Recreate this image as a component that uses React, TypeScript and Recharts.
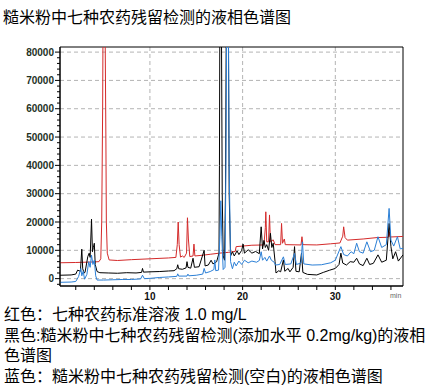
import { LineChart, Line, XAxis, YAxis, CartesianGrid, ReferenceArea } from 'recharts';

// retention time (min) vs. response
const redTrace: [number, number][] = [
  [0.3, 5600], [2.0, 5700], [3.0, 5800], [4.0, 5900], [4.5, 6000], [4.7, 7000], [4.8, 20000],
  [4.9, 60000], [4.95, 95000], [5.15, 95000], [5.25, 50000], [5.3, 20000], [5.4, 9000], [5.6, 6600],
  [6.5, 6400], [8, 6700], [10, 7000], [12, 7300], [12.8, 7500], [12.95, 12000], [13.05, 20000],
  [13.15, 12000], [13.3, 7600], [13.5, 8000], [13.7, 7500], [13.95, 9000], [14.05, 21500],
  [14.15, 14000], [14.3, 7800], [14.65, 8000], [14.75, 12200], [14.85, 8000], [15.5, 8200],
  [16.5, 8600], [17.5, 9000], [18.5, 9300], [19.2, 9600], [19.3, 11300], [20, 11500], [21, 11800],
  [22.3, 11900], [22.45, 18000], [22.5, 23600], [22.6, 13000], [22.8, 13000], [22.9, 22500],
  [23.0, 13000], [23.3, 13700], [23.5, 12000], [24.1, 12000], [24.2, 19500], [24.3, 12500],
  [24.5, 14000], [24.6, 12000], [26.3, 11900], [26.4, 14800], [26.5, 12000], [28, 11900],
  [29.5, 12300], [30.5, 12600], [30.8, 15000], [30.9, 18300], [31.05, 14500], [31.3, 13600],
  [33, 14000], [34.5, 14500], [35.7, 14600], [35.8, 16500], [35.9, 14700], [37.3, 14900],
];

const blackTrace: [number, number][] = [
  [0.3, 1200], [1.5, 1300], [2.0, 1600], [2.2, 3000], [2.5, 2600], [2.65, 10400], [2.75, 3500],
  [2.9, 2000], [3.0, 2200], [3.3, 7800], [3.45, 9000], [3.55, 7500], [3.7, 21000], [3.8, 9500],
  [3.9, 11000], [4.0, 12500], [4.1, 5000], [4.3, 2500], [4.6, 2100], [5.5, 2000], [6.5, 1900],
  [7.5, 2100], [8.5, 2000], [9.1, 2200], [9.2, 3600], [9.3, 2300], [10, 2400], [11, 2500],
  [12, 2700], [12.6, 2800], [12.9, 3500], [13.0, 4900], [13.1, 3500], [13.5, 3300], [13.9, 3800],
  [14.0, 6000], [14.1, 4000], [14.4, 3700], [14.65, 7200], [14.8, 4000], [15.3, 4200],
  [15.85, 10000], [15.95, 4500], [16.3, 4800], [16.6, 6500], [16.8, 5200], [17.2, 6000],
  [17.45, 9000], [17.5, 40000], [17.55, 100000], [17.7, 100000], [17.8, 30000], [17.9, 8000],
  [18.05, 6500], [18.15, 30000], [18.25, 100000], [18.45, 100000], [18.55, 30000], [18.7, 8000],
  [18.9, 9500], [19.1, 8000], [19.4, 9800], [19.6, 8500], [19.9, 10000], [20.05, 12200],
  [20.2, 9000], [20.6, 10200], [21.0, 9000], [21.4, 9600], [21.8, 8800], [22.0, 18300],
  [22.15, 10500], [22.3, 13500], [22.45, 11000], [22.6, 12000], [22.8, 10000], [23.0, 16000],
  [23.15, 11000], [23.3, 12500], [23.5, 6000], [23.6, 2000], [23.9, 2800], [24.1, 2400],
  [24.4, 6600], [24.55, 2600], [24.9, 3600], [25.1, 2400], [25.45, 4000], [25.6, 11300],
  [25.75, 2600], [26.1, 2400], [26.35, 9000], [26.5, 2200], [27, 1500], [28, 1300], [28.7, 2200],
  [29.4, 3000], [30.0, 3600], [30.4, 5000], [30.6, 9000], [30.8, 5500], [31.2, 4800], [31.6, 6000],
  [32.0, 5800], [32.3, 7200], [32.6, 5200], [33.0, 4600], [33.4, 7200], [33.7, 5000], [34.1, 5400],
  [34.6, 8400], [35.0, 5800], [35.5, 6500], [35.8, 19500], [36.0, 11300], [36.2, 7000],
  [36.5, 9500], [36.8, 6200], [37.3, 8400],
];

const blueTrace: [number, number][] = [
  [0.3, -1300], [1.5, -1200], [2.0, -1000], [2.3, 700], [2.55, 3600], [2.65, 1000], [2.8, 2600],
  [2.95, -200], [3.2, 1500], [3.4, 6000], [3.55, 4000], [3.7, 8300], [3.85, 5000], [4.0, 6500],
  [4.15, 1000], [4.3, -500], [5, -500], [6, -400], [7, -300], [8, -300], [9.0, -100], [9.2, 1200],
  [9.4, 0], [10, 100], [11, 400], [12, 600], [12.9, 800], [13.0, 1700], [13.1, 900], [14, 900],
  [14.1, 1600], [14.2, 1000], [15, 1200], [15.7, 1600], [15.85, 3600], [16.0, 2000], [16.5, 2500],
  [16.9, 3200], [17.0, 6600], [17.1, 2800], [17.4, 3000], [17.55, 15000], [17.65, 27500],
  [17.75, 15000], [17.9, 3200], [18.1, 4000], [18.2, 40000], [18.3, 100000], [18.45, 100000],
  [18.55, 40000], [18.7, 6000], [18.9, 3500], [19.1, 5800], [19.3, 4500], [19.6, 6200],
  [19.9, 5000], [20.2, 6500], [20.6, 5600], [21.0, 6200], [21.5, 5800], [21.8, 6400], [22.0, 9500],
  [22.15, 6500], [22.4, 7500], [22.6, 6200], [22.9, 8000], [23.1, 6500], [23.4, 5800],
  [23.55, 4800], [24.0, 5000], [24.4, 7700], [24.6, 5000], [25.2, 5200], [25.6, 8900], [25.8, 5000],
  [26.3, 5500], [26.45, 13000], [26.6, 5200], [27.5, 4800], [28.5, 4900], [29.5, 5600],
  [30.0, 6500], [30.6, 11300], [30.9, 8500], [31.3, 8000], [31.7, 9500], [32.0, 8800],
  [32.3, 12500], [32.6, 9500], [33.0, 9000], [33.4, 13000], [33.8, 9500], [34.2, 10000],
  [34.6, 14800], [35.0, 11000], [35.5, 12000], [35.8, 24800], [36.0, 13600], [36.3, 11500],
  [36.7, 14800], [37.0, 10500], [37.3, 10700],
];

const xTicks = [2, 4, 6, 8, 10, 12, 14, 16, 18, 20, 22, 24, 26, 28, 30, 32, 34, 36];
const xLabels = [10, 20, 30];
const yTicks = Array.from({ length: 42 }, (_, i) => -2000 + i * 2000);
const yLabels = [0, 10000, 20000, 30000, 40000, 50000, 60000, 70000, 80000];

const X_MIN = 0.3;
const X_MAX = 37.3;
const Y_MIN = -2600;
const Y_MAX = 81800;

const title = '糙米粉中七种农药残留检测的液相色谱图';
const notes = [
  '红色：七种农药标准溶液 1.0 mg/L',
  '黑色:糙米粉中七种农药残留检测(添加水平 0.2mg/kg)的液相',
  '色谱图',
  '蓝色：糙米粉中七种农药残留检测(空白)的液相色谱图',
];

const toRows = (pts: [number, number][]) => pts.map(([t, v]) => ({ t, v }));

const FONT = '"Liberation Sans", "Noto Sans CJK SC", sans-serif';

const YTick = ({ x, y, payload }: any) => {
  const major = yLabels.includes(payload.value);
  return (
    <g>
      <line x1={major ? x + 1 : x + 3} x2={x + 6} y1={y} y2={y} stroke="#000" />
      {major && (
        <text x={x} y={y} dy={3.5} textAnchor="end" fontSize={10} fontWeight="bold" fill="#24321f" fontFamily={FONT}>
          {payload.value}
        </text>
      )}
    </g>
  );
};

const XTick = ({ x, y, payload }: any) => {
  const major = xLabels.includes(payload.value);
  return (
    <g>
      <line x1={x} x2={x} y1={y - 6} y2={y - 2} stroke="#000" />
      {major && (
        <text x={x} y={y + 8} textAnchor="middle" fontSize={10} fontWeight="bold" fill="#111" fontFamily={FONT}>
          {payload.value}
        </text>
      )}
    </g>
  );
};

export default function App() {
  return (
    <div style={{ position: 'absolute', left: 0, top: 0, width: 429, height: 387, background: '#fff', fontFamily: FONT }}>
      <div style={{ position: 'absolute', left: 3, top: 8, fontSize: 16, lineHeight: '20px', whiteSpace: 'nowrap' }}>
        {title}
      </div>
      <div style={{ position: 'absolute', left: 0, top: 0 }}>
        <LineChart width={429} height={310} margin={{ top: 47, right: 26, bottom: 4, left: 0 }}>
          <CartesianGrid
            stroke="#b4b4b4"
            strokeDasharray="4 3"
            horizontalValues={yLabels}
            verticalValues={xLabels}
          />
          <XAxis
            dataKey="t"
            type="number"
            domain={[X_MIN, X_MAX]}
            allowDataOverflow
            ticks={xTicks}
            interval={0}
            height={20}
            tickSize={4}
            tickMargin={2}
            tickLine={false}
            axisLine={{ stroke: '#000' }}
            tick={<XTick />}
          />
          <YAxis
            type="number"
            domain={[Y_MIN, Y_MAX]}
            allowDataOverflow
            ticks={yTicks}
            interval={0}
            width={60}
            tickSize={5}
            tickMargin={1}
            tickLine={false}
            axisLine={{ stroke: '#000' }}
            tick={<YTick />}
          />
          <Line data={toRows(redTrace)} dataKey="v" stroke="#d42a2a" strokeWidth={1} dot={false} isAnimationActive={false} />
          <Line data={toRows(blackTrace)} dataKey="v" stroke="#000" strokeWidth={1} dot={false} isAnimationActive={false} />
          <Line data={toRows(blueTrace)} dataKey="v" stroke="#2b7fd6" strokeWidth={1} dot={false} isAnimationActive={false} />
          <ReferenceArea x1={X_MIN} x2={X_MAX} y1={Y_MIN} y2={Y_MAX} fill="none" stroke="#000" strokeWidth={1} />
        </LineChart>
      </div>
      <div style={{ position: 'absolute', left: 390, top: 292, fontSize: 7, color: '#666' }}>min</div>
      <div style={{ position: 'absolute', left: 4, top: 305, fontSize: 16, lineHeight: '20.5px' }}>
        {notes.map((n) => (
          <div key={n} style={{ whiteSpace: 'nowrap' }}>{n}</div>
        ))}
      </div>
    </div>
  );
}
